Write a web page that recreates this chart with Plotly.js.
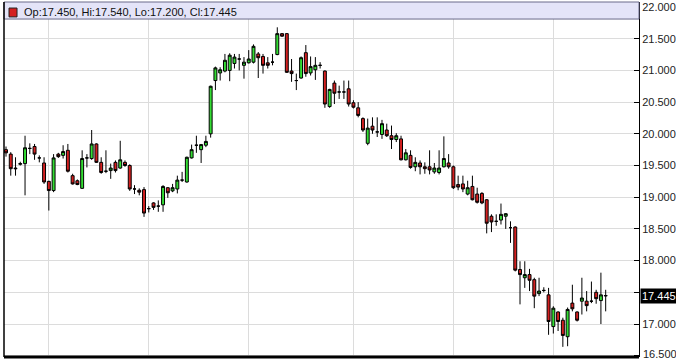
<!DOCTYPE html>
<html>
<head>
<meta charset="utf-8">
<script src="https://cdn.plot.ly/plotly-3.0.1.min.js"></script>
<style>html,body{margin:0;padding:0;background:#fff;}#chart{width:676px;height:360px;}</style>
</head>
<body>
<div id="chart"></div>
<script>
// Daily OHLC values
const openVals = [19.75,19.68,19.46,19.52,19.53,19.77,19.80,19.62,19.54,19.25,19.105,19.68,19.66,19.74,19.34,19.26,19.14,19.62,19.61,19.84,19.55,19.41,19.42,19.55,19.46,19.55,19.50,19.13,19.11,19.12,18.82,18.91,18.86,18.88,19.15,19.10,19.13,19.27,19.24,19.62,19.82,19.75,19.82,20.00,20.84,20.96,20.99,21.00,21.11,21.18,21.08,21.12,21.13,21.26,21.22,21.12,21.13,21.25,21.58,21.58,20.99,20.84,20.88,21.28,20.96,21.01,21.08,20.99,20.43,20.80,20.66,20.66,20.71,20.49,20.41,20.24,19.85,20.12,20.03,19.99,20.06,19.97,19.91,19.92,19.59,19.66,19.48,19.54,19.48,19.48,19.40,19.39,19.48,19.54,19.48,19.20,19.21,19.05,19.17,19.05,19.06,18.96,18.70,18.62,18.64,18.70,18.52,18.53,17.86,17.73,17.78,17.70,17.48,17.53,17.46,16.96,17.19,17.06,16.80,17.33,17.19,17.36,17.36,17.36,17.50,17.37,17.450];
const highVals = [19.80,19.71,19.63,19.56,19.97,19.85,19.84,19.66,19.63,19.26,19.68,19.70,19.82,19.84,19.37,19.28,19.74,19.68,20.06,19.85,19.63,19.74,19.53,19.58,19.89,19.58,19.52,19.19,19.14,19.16,18.86,18.92,18.95,19.19,19.16,19.21,19.34,19.40,19.64,19.83,19.97,19.84,19.97,20.76,21.06,21.05,21.26,21.27,21.26,21.26,21.21,21.32,21.41,21.29,21.26,21.21,21.26,21.68,21.59,21.59,21.18,20.95,21.22,21.40,21.22,21.21,21.13,21.00,20.71,20.84,20.76,20.84,20.84,20.53,20.50,20.26,20.24,20.26,20.26,20.22,20.16,20.13,20.01,19.97,19.76,19.74,19.63,19.58,19.55,19.74,19.54,19.74,19.96,19.68,19.50,19.34,19.34,19.26,19.34,19.15,19.08,18.97,18.73,18.73,18.90,18.75,18.62,18.54,17.99,17.99,17.87,17.73,17.73,17.58,17.57,17.28,17.20,17.10,17.26,17.62,17.20,17.73,17.52,17.67,17.54,17.81,17.540];
const lowVals = [19.64,19.34,19.34,19.50,19.03,19.68,19.59,19.55,19.21,18.79,19.08,19.62,19.61,19.39,19.20,19.19,19.13,19.47,19.59,19.54,19.37,19.38,19.29,19.39,19.45,19.48,19.10,19.05,19.03,18.69,18.76,18.80,18.77,18.77,18.99,19.08,19.06,19.24,19.23,19.61,19.70,19.54,19.79,19.94,20.69,20.84,20.97,20.83,21.03,21.00,20.87,21.11,21.11,20.88,20.95,21.03,21.08,21.24,21.53,20.96,20.82,20.69,20.87,20.90,20.92,20.85,21.03,20.41,20.41,20.47,20.55,20.55,20.43,20.40,20.26,20.03,19.82,20.00,19.95,19.92,19.95,19.76,19.87,19.58,19.58,19.45,19.41,19.36,19.37,19.36,19.37,19.36,19.47,19.45,19.13,19.11,19.08,19.03,18.95,18.90,18.89,18.43,18.45,18.55,18.57,18.50,18.28,17.83,17.31,17.57,17.52,17.25,17.44,17.50,16.83,16.85,16.89,16.64,16.65,17.20,17.04,17.15,17.20,17.33,17.32,17.00,17.200];
const closeVals = [19.70,19.45,19.45,19.53,19.78,19.77,19.68,19.62,19.24,19.105,19.62,19.64,19.72,19.41,19.21,19.20,19.61,19.62,19.84,19.55,19.39,19.41,19.46,19.42,19.59,19.50,19.13,19.13,19.08,18.75,18.82,18.84,18.86,19.17,19.07,19.15,19.27,19.27,19.63,19.75,19.82,19.83,19.88,20.75,21.04,21.01,21.16,21.24,21.21,21.18,21.13,21.18,21.38,21.20,21.08,21.08,21.13,21.58,21.54,20.97,20.95,20.84,21.20,20.95,21.06,21.08,21.08,20.47,20.70,20.64,20.66,20.66,20.47,20.42,20.29,20.06,20.09,20.06,20.03,20.16,19.97,19.91,19.97,19.59,19.70,19.47,19.55,19.48,19.45,19.43,19.46,19.46,19.61,19.48,19.15,19.16,19.13,19.15,18.96,18.92,18.91,18.59,18.61,18.62,18.73,18.74,18.52,17.85,17.78,17.78,17.69,17.44,17.52,17.53,17.04,17.25,17.04,16.82,17.23,17.24,17.06,17.41,17.29,17.36,17.40,17.46,17.445];
const yTickVals = [16.5,17.0,17.5,18.0,18.5,19.0,19.5,20.0,20.5,21.0,21.5,22.0];
// 17.500 label is covered by the last-price label in the reference; 16.500 is drawn as an annotation
const yTickText = ["","17.000","","18.000","18.500","19.000","19.500","20.000","20.500","21.000","21.500","22.000"];
const bottomTickText = "16.500";
const monthStarts = [9,30,51,73,94,115];
const headerText = "Op:17.450, Hi:17.540, Lo:17.200, Cl:17.445";
const lastPriceText = "17.445";
const lastPrice = closeVals[closeVals.length-1];

const xIdx = openVals.map((_, i) => i);

const trace = {
  type: 'candlestick',
  x: xIdx,
  open: openVals, high: highVals, low: lowVals, close: closeVals,
  increasing: {line: {color: '#000000', width: 1}, fillcolor: '#33dd33'},
  decreasing: {line: {color: '#000000', width: 1}, fillcolor: '#d42020'},
  whiskerwidth: 0,
  hoverinfo: 'none'
};

const fontFam = 'Arial, "Liberation Sans", sans-serif';

const layout = {
  width: 676, height: 360,
  margin: {l: 4, r: 37, t: 2, b: 3, pad: 0},
  paper_bgcolor: '#ffffff', plot_bgcolor: '#ffffff',
  showlegend: false,
  boxgap: 0.12,
  font: {family: fontFam, size: 11, color: '#222'},
  xaxis: {
    range: [-0.42, 133], fixedrange: true,
    rangeslider: {visible: false},
    tickmode: 'array', tickvals: monthStarts, showticklabels: false,
    ticks: '', showgrid: true, gridcolor: '#dcdcdc', gridwidth: 1,
    zeroline: false, showline: false
  },
  yaxis: {
    side: 'right', range: [16.48, 22.079], fixedrange: true,
    tickmode: 'array', tickvals: yTickVals, ticktext: yTickText,
    ticks: 'inside', ticklen: 5, tickcolor: '#000', tickwidth: 1,
    showline: true, linecolor: '#000', linewidth: 1,
    showgrid: true, gridcolor: '#dcdcdc', gridwidth: 1,
    zeroline: false,
    tickfont: {family: fontFam, size: 11, color: '#222'}
  },
  shapes: [
    {type: 'rect', xref: 'paper', yref: 'paper', x0: 0, x1: 1, y0: 0.952, y1: 1,
     fillcolor: '#e4e4f8', line: {color: '#6a6a8a', width: 1}, layer: 'above'},
    {type: 'rect', xref: 'paper', yref: 'paper', x0: 0.0079, x1: 0.0205, y0: 0.958, y1: 0.983,
     fillcolor: '#d42020', line: {color: '#222', width: 1}, layer: 'above'},
    {type: 'line', xref: 'paper', yref: 'paper', x0: 0, x1: 0, y0: 0, y1: 1,
     line: {color: '#000', width: 1.5}},
    {type: 'line', xref: 'paper', yref: 'paper', x0: 0, x1: 1, y0: 0, y1: 0,
     line: {color: '#000', width: 3}}
  ],
  annotations: [
    {xref: 'paper', yref: 'paper', x: 0.028, y: 0.9705, xanchor: 'left', yanchor: 'middle',
     text: headerText, showarrow: false,
     font: {family: fontFam, size: 11, color: '#111'}},
    {xref: 'paper', yref: 'y', x: 1, y: lastPrice, xanchor: 'left', yanchor: 'middle',
     xshift: 1, text: lastPriceText, showarrow: false, bgcolor: '#000', borderpad: 1,
     font: {family: fontFam, size: 11, color: '#fff'}},
    {xref: 'paper', yref: 'y', x: 1, y: 16.5, xanchor: 'left', yanchor: 'middle',
     xshift: 2, yshift: 2, text: bottomTickText, showarrow: false,
     font: {family: fontFam, size: 11, color: '#222'}}
  ]
};

Plotly.newPlot('chart', [trace], layout, {displayModeBar: false, staticPlot: true});
</script>
</body>
</html>
